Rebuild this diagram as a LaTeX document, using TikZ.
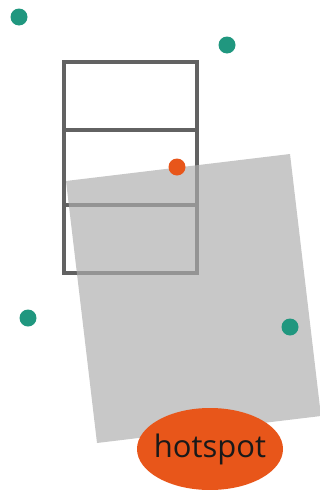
\documentclass[tikz,border=0pt]{standalone}
\usepackage{fontspec}
\setmainfont{Open Sans}
\usetikzlibrary{shapes.geometric}
\definecolor{teal1}{HTML}{20977F}
\definecolor{orange1}{HTML}{E8561A}
\definecolor{boxline}{HTML}{626262}
\definecolor{greyfill}{HTML}{ADADAD}
\tikzset{
  tealdot/.style={circle,fill=teal1,inner sep=0pt,minimum size=17pt},
  hotdot/.style={circle,fill=orange1,inner sep=0pt,minimum size=17pt},
  cellbox/.style={draw=boxline,line width=3.2pt,fill=white},
  divider/.style={draw=boxline,line width=3.2pt},
}
\begin{document}
\begin{tikzpicture}[x=1pt,y=-1pt]
\useasboundingbox (0,0) rectangle (320,490);
% stacked box
\draw[cellbox] (64,62) rectangle (197,273);
\draw[divider] (64,130) -- (197,130);
\draw[divider] (64,205) -- (197,205);
% rotated translucent rectangle
\fill[fill=greyfill,fill opacity=0.67] (66,181) -- (290,154) -- (321,416) -- (97,443) -- cycle;
% dots
\node[tealdot] (t1) at (19,17) {};
\node[tealdot] (t2) at (227,45) {};
\node[tealdot] (t3) at (28,318) {};
\node[tealdot] (t4) at (290,327) {};
\node[hotdot] (o1) at (177,167) {};
% hotspot
\node[ellipse,fill=orange1,minimum width=146pt,minimum height=82pt,
  inner xsep=-30pt,inner ysep=0pt,
  font=\fontsize{31}{36}\selectfont,text=black!90] (hs) at (210,449) {hotspot};
\end{tikzpicture}
\end{document}
